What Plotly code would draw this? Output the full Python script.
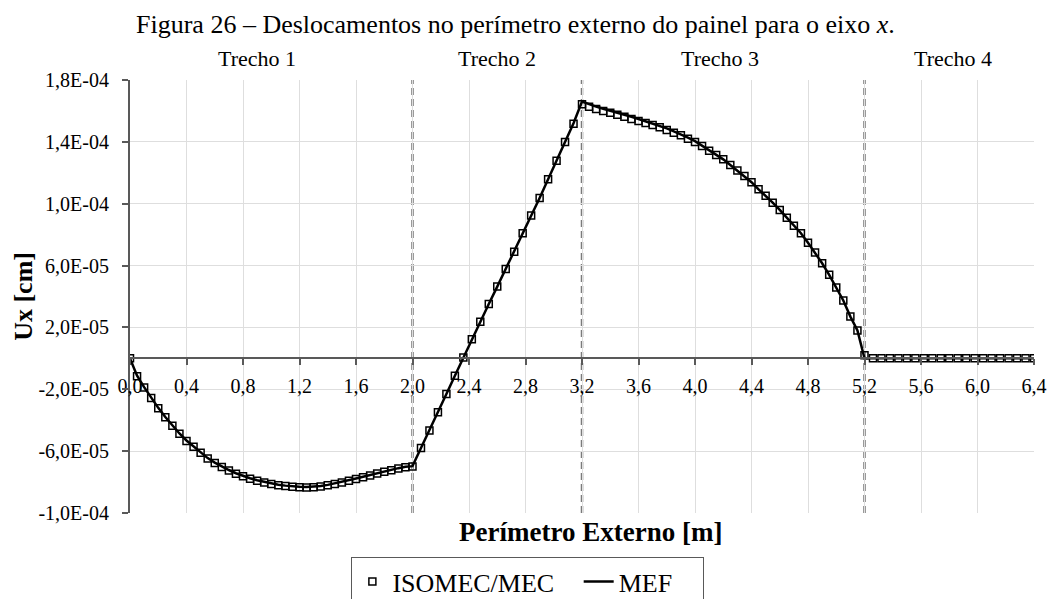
import plotly.graph_objects as go

# ---------------- data ----------------
# Perimeter sampling (m) of each stretch (Trecho)
x_trecho1 = [round(0.05 * i, 2) for i in range(0, 41)]          # 0.00 .. 2.00
x_trecho2 = [round(2.0 + 0.06 * i, 2) for i in range(1, 21)]    # 2.06 .. 3.20
x_trecho3 = [round(3.2 + 0.05 * i, 2) for i in range(1, 41)]    # 3.25 .. 5.20
x_trecho4 = [round(5.2 + 0.06 * i, 2) for i in range(1, 21)]    # 5.26 .. 6.40

# ISOMEC/MEC displacements Ux (x 1e-5 cm)
isomec_t1 = [0.0, -1.15, -1.88, -2.57, -3.22, -3.81, -4.36, -4.88, -5.34, -5.72,
             -6.11, -6.48, -6.77, -7.03, -7.25, -7.46, -7.63, -7.78, -7.91, -8.02,
             -8.12, -8.20, -8.26, -8.31, -8.34, -8.35, -8.33, -8.29, -8.21, -8.12,
             -8.02, -7.91, -7.80, -7.69, -7.57, -7.45, -7.34, -7.23, -7.13, -7.04,
             -7.00]
isomec_t2 = [-5.80, -4.67, -3.48, -2.31, -1.13, 0.05, 1.24, 2.37, 3.51, 4.64,
             5.78, 6.90, 8.09, 9.23, 10.37, 11.58, 12.78, 13.99, 15.17, 16.43]
isomec_t3 = [16.27, 16.12, 15.99, 15.88, 15.76, 15.63, 15.48, 15.35, 15.22, 15.09,
             14.94, 14.77, 14.59, 14.42, 14.20, 13.99, 13.73, 13.43, 13.15, 12.87,
             12.50, 12.14, 11.79, 11.39, 10.93, 10.52, 10.07, 9.60, 9.10, 8.58,
             8.09, 7.48, 6.84, 6.15, 5.40, 4.58, 3.74, 2.70, 1.80, 0.20]
isomec_t4 = [0.0] * 20

# MEF displacements Ux (x 1e-5 cm)
mef_t1 = [0.0, -1.12, -1.86, -2.55, -3.20, -3.79, -4.34, -4.86, -5.31, -5.70,
          -6.08, -6.45, -6.74, -7.00, -7.22, -7.43, -7.60, -7.75, -7.88, -7.99,
          -8.09, -8.17, -8.23, -8.28, -8.31, -8.32, -8.30, -8.26, -8.18, -8.09,
          -7.99, -7.88, -7.77, -7.66, -7.54, -7.42, -7.31, -7.20, -7.10, -7.01,
          -6.97]
mef_t2 = [-5.80, -4.67, -3.48, -2.31, -1.13, 0.05, 1.24, 2.37, 3.51, 4.64,
          5.78, 6.90, 8.09, 9.23, 10.37, 11.58, 12.78, 13.99, 15.20, 16.60]
mef_t3 = [16.42, 16.28, 16.14, 16.02, 15.90, 15.77, 15.62, 15.48, 15.34, 15.20,
          15.04, 14.87, 14.68, 14.50, 14.28, 14.05, 13.76, 13.45, 13.16, 12.87,
          12.50, 12.14, 11.79, 11.39, 10.93, 10.52, 10.07, 9.60, 9.10, 8.58,
          8.09, 7.48, 6.84, 6.15, 5.40, 4.58, 3.74, 2.70, 1.80, 0.00]
mef_t4 = [0.0] * 20

scale = 1e-5
series_names = ["ISOMEC/MEC", "MEF"]
trecho_limits = [2.0, 3.2, 5.2]
trecho_labels = ["Trecho 1", "Trecho 2", "Trecho 3", "Trecho 4"]
trecho_label_x = [0.9, 2.6, 4.18, 5.83]

x_tickvals = [0.0, 0.4, 0.8, 1.2, 1.6, 2.0, 2.4, 2.8, 3.2, 3.6, 4.0, 4.4, 4.8, 5.2, 5.6, 6.0, 6.4]
x_ticktext = ["0,0", "0,4", "0,8", "1,2", "1,6", "2,0", "2,4", "2,8", "3,2", "3,6",
              "4,0", "4,4", "4,8", "5,2", "5,6", "6,0", "6,4"]
y_tickvals = [-1.0e-4, -6.0e-5, -2.0e-5, 2.0e-5, 6.0e-5, 1.0e-4, 1.4e-4, 1.8e-4]
y_ticktext = ["-1,0E-04", "-6,0E-05", "-2,0E-05", "2,0E-05", "6,0E-05",
              "1,0E-04", "1,4E-04", "1,8E-04"]

x_range = [0.0, 6.4]
y_range = [-1.0e-4, 1.8e-4]

# ---------------- figure ----------------
FONT = "Liberation Serif, Times New Roman, serif"
NBSP = "\u00a0"

x_all = x_trecho1 + x_trecho2 + x_trecho3 + x_trecho4
y_isomec = [v * scale for v in isomec_t1 + isomec_t2 + isomec_t3 + isomec_t4]
y_mef = [v * scale for v in mef_t1 + mef_t2 + mef_t3 + mef_t4]

fig = go.Figure()
fig.add_trace(go.Scatter(
    x=x_all, y=y_mef, mode="lines", name=series_names[1] + NBSP * 4,
    line=dict(color="black", width=2.5), legendrank=2))
fig.add_trace(go.Scatter(
    x=x_all, y=y_isomec, mode="markers", name=series_names[0] + NBSP * 3,
    marker=dict(symbol="square-open", size=7, color="black",
                line=dict(color="black", width=1.5)),
    legendrank=1))

for xl in trecho_limits:
    fig.add_shape(type="line", xref="x", yref="paper", x0=xl, x1=xl, y0=0, y1=1,
                  line=dict(color="#7a7a7a", width=2.5, dash="7px,4px"), layer="between")

zero_pos = (0 - y_range[0]) / (y_range[1] - y_range[0])

fig.update_layout(
    width=1060, height=599, autosize=False,
    margin=dict(l=130, r=26, t=80, b=86),
    paper_bgcolor="white", plot_bgcolor="white",
    font=dict(family=FONT, color="black", size=20),
    showlegend=True,
    legend=dict(orientation="h", xref="container", yref="container",
                x=0.498, xanchor="center", y=0.0701, yanchor="top",
                font=dict(family=FONT, size=26, color="black"),
                bordercolor="#595959", borderwidth=1, bgcolor="white",
                itemwidth=30),
    xaxis=dict(range=x_range, tickvals=x_tickvals, ticktext=x_ticktext,
               showgrid=True, gridcolor="#dedede", gridwidth=1,
               showline=True, linecolor="#595959", linewidth=2,
               ticks="outside", ticklen=6, tickwidth=1.5, tickcolor="#595959",
               anchor="free", position=zero_pos, zeroline=False,
               ticklabelstandoff=4, automargin=False,
               tickfont=dict(family=FONT, size=20, color="black")),
    yaxis=dict(range=y_range, tickvals=y_tickvals, ticktext=y_ticktext,
               showgrid=True, gridcolor="#dedede", gridwidth=1,
               showline=True, linecolor="#595959", linewidth=2,
               ticks="outside", ticklen=6, tickwidth=1.5, tickcolor="#595959",
               zeroline=False, ticklabelstandoff=9, automargin=False,
               tickfont=dict(family=FONT, size=20, color="black")),
)

annotations = [
    dict(text="Figura 26 – Deslocamentos no perímetro externo do painel para o eixo <i>x</i>.",
         xref="paper", yref="paper", x=0.426, y=1.128, xanchor="center", yanchor="middle",
         showarrow=False, font=dict(family=FONT, size=26, color="black")),
    dict(text="<b>Ux [cm]</b>", xref="paper", yref="paper", x=-0.118, y=0.5,
         xanchor="center", yanchor="middle", textangle=-90, showarrow=False,
         font=dict(family=FONT, size=26, color="black")),
    dict(text="<b>Perímetro Externo [m]</b>", xref="paper", yref="paper", x=0.509, y=-0.043,
         xanchor="center", yanchor="middle", showarrow=False,
         font=dict(family=FONT, size=27, color="black")),
]
for lbl, lx in zip(trecho_labels, trecho_label_x):
    annotations.append(dict(text=lbl, xref="x", yref="paper", x=lx, y=1.0485,
                            xanchor="center", yanchor="middle", showarrow=False,
                            font=dict(family=FONT, size=22, color="black")))
fig.update_layout(annotations=annotations)

fig.write_html("out.html")
